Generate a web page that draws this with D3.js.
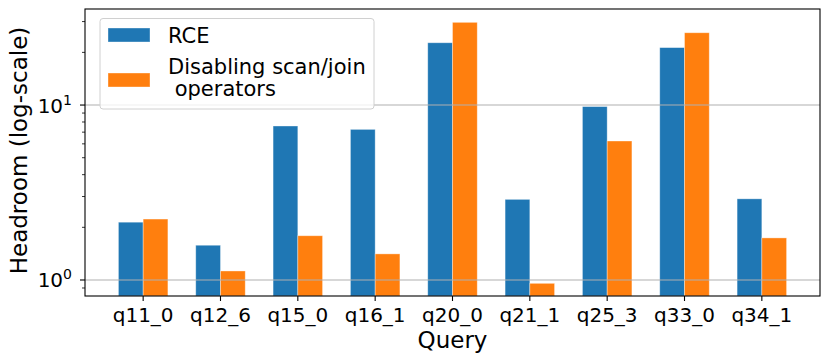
<!DOCTYPE html>
<html>
<head>
<meta charset="utf-8">
<script src="https://cdn.jsdelivr.net/npm/d3@7"></script>
<style>
  body { margin: 0; background: #fff; }
  svg text { font-family: "DejaVu Sans", sans-serif; fill: #000; }
</style>
</head>
<body>
<svg id="chart" width="830" height="364"></svg>
<script>
const queries = ["q11_0", "q12_6", "q15_0", "q16_1", "q20_0", "q21_1", "q25_3", "q33_0", "q34_1"];
const rceValues = [2.14, 1.58, 7.59, 7.26, 22.7, 2.89, 9.8, 21.3, 2.91];
const disableValues = [2.23, 1.126, 1.79, 1.41, 29.7, 0.957, 6.23, 25.9, 1.74];
const seriesNames = ["RCE", "Disabling scan/join\n operators"];
const seriesColors = ["#1f77b4", "#ff7f0e"];
const majorTicks = [1, 10];
const minorTicks = [0.9, 2, 3, 4, 5, 6, 7, 8, 9, 20, 30];

const svg = d3.select("#chart");
const margin = { left: 85, right: 10, top: 9, bottom: 68 };
const W = 830, H = 364;
const plotW = W - margin.left - margin.right;
const plotH = H - margin.top - margin.bottom;
const barW = 0.32;
const pad = 0.05 * (queries.length - 1 + 2 * barW);

const x = d3.scaleLinear()
  .domain([-barW - pad, queries.length - 1 + barW + pad])
  .range([margin.left, margin.left + plotW]);
const y = d3.scaleLog()
  .domain([0.81, 35.4])
  .range([margin.top + plotH, margin.top]);

svg.append("clipPath").attr("id", "clip")
  .append("rect")
  .attr("x", margin.left).attr("y", margin.top)
  .attr("width", plotW).attr("height", plotH);

const plot = svg.append("g").attr("clip-path", "url(#clip)");

const series = [rceValues, disableValues];
series.forEach((vals, si) => {
  plot.append("g")
    .selectAll("rect")
    .data(vals)
    .join("rect")
    .attr("x", (d, i) => x(i + (si === 0 ? -barW : 0)))
    .attr("width", x(barW) - x(0))
    .attr("y", (d) => y(d))
    .attr("height", (d) => margin.top + plotH - y(d))
    .attr("fill", seriesColors[si])
    .attr("stroke", "#fff")
    .attr("stroke-opacity", 0.45)
    .attr("stroke-width", 0.8);
});

// grid at major ticks, drawn above the bars
plot.append("g")
  .selectAll("line")
  .data(majorTicks)
  .join("line")
  .attr("x1", margin.left).attr("x2", margin.left + plotW)
  .attr("y1", (d) => y(d)).attr("y2", (d) => y(d))
  .attr("stroke", "#b0b0b0")
  .attr("stroke-width", 1.1);

// spines
svg.append("rect")
  .attr("x", margin.left).attr("y", margin.top)
  .attr("width", plotW).attr("height", plotH)
  .attr("fill", "none").attr("stroke", "#000").attr("stroke-width", 1.1);

// y axis ticks
const yAxis = svg.append("g");
yAxis.selectAll("line.major")
  .data(majorTicks)
  .join("line")
  .attr("class", "major")
  .attr("x1", margin.left - 5).attr("x2", margin.left)
  .attr("y1", (d) => y(d)).attr("y2", (d) => y(d))
  .attr("stroke", "#000").attr("stroke-width", 1.1);
yAxis.selectAll("line.minor")
  .data(minorTicks)
  .join("line")
  .attr("class", "minor")
  .attr("x1", margin.left - 3).attr("x2", margin.left)
  .attr("y1", (d) => y(d)).attr("y2", (d) => y(d))
  .attr("stroke", "#000").attr("stroke-width", 0.8);

const yLab = yAxis.selectAll("text")
  .data(majorTicks)
  .join("text")
  .attr("x", margin.left - 13)
  .attr("y", (d) => y(d) + 7.5)
  .attr("text-anchor", "end")
  .attr("font-size", 20);
yLab.append("tspan").text("10");
yLab.append("tspan")
  .attr("dy", -8)
  .attr("font-size", 14)
  .text((d) => Math.round(Math.log10(d)));

// x axis ticks
const xAxis = svg.append("g");
xAxis.selectAll("line")
  .data(queries)
  .join("line")
  .attr("x1", (d, i) => x(i)).attr("x2", (d, i) => x(i))
  .attr("y1", margin.top + plotH).attr("y2", margin.top + plotH + 5)
  .attr("stroke", "#000").attr("stroke-width", 1.1);
xAxis.selectAll("text")
  .data(queries)
  .join("text")
  .attr("x", (d, i) => x(i))
  .attr("y", margin.top + plotH + 26)
  .attr("text-anchor", "middle")
  .attr("font-size", 20)
  .text((d) => d);

// axis titles
svg.append("text")
  .attr("x", margin.left + plotW / 2)
  .attr("y", 348)
  .attr("text-anchor", "middle")
  .attr("font-size", 23)
  .text("Query");
svg.append("text")
  .attr("transform", `translate(27,${margin.top + plotH / 2 - 2}) rotate(-90)`)
  .attr("text-anchor", "middle")
  .attr("font-size", 23)
  .text("Headroom (log-scale)");

// legend
const legend = svg.append("g");
legend.append("rect")
  .attr("x", 100).attr("y", 18.5)
  .attr("width", 274).attr("height", 90.5)
  .attr("rx", 3)
  .attr("fill", "#fff").attr("fill-opacity", 0.8)
  .attr("stroke", "#d0d0d0").attr("stroke-width", 1);
const legendPatchY = [28, 73];
const legendTextY = [42.5, 73.5];
seriesNames.forEach((name, i) => {
  legend.append("rect")
    .attr("x", 108).attr("y", legendPatchY[i])
    .attr("width", 42).attr("height", 14)
    .attr("fill", seriesColors[i])
    .attr("stroke", "#fff").attr("stroke-opacity", 0.45).attr("stroke-width", 0.8);
  const t = legend.append("text")
    .attr("x", 168).attr("y", legendTextY[i])
    .attr("font-size", 21)
    .attr("xml:space", "preserve")
    .style("white-space", "pre");
  name.split("\n").forEach((line, j) => {
    t.append("tspan")
      .attr("x", 168)
      .attr("dy", j === 0 ? 0 : 22.5)
      .text(line);
  });
});
</script>
</body>
</html>
